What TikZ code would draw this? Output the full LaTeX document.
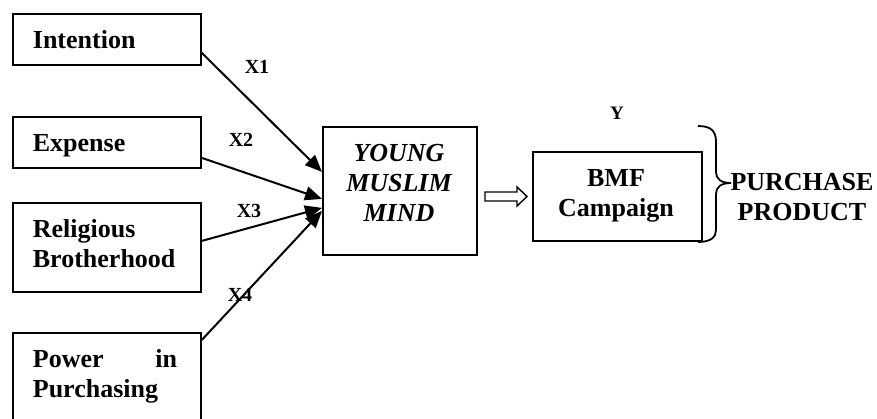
\documentclass[tikz,border=0pt]{standalone}
\usepackage{fontspec}
\setmainfont{Liberation Serif}
\usetikzlibrary{arrows.meta}
\begin{document}
\begin{tikzpicture}[x=1pt,y=-1pt, line width=1.8pt,
  box/.style={draw, rectangle, inner sep=0pt, anchor=north west, line width=1.8pt},
  lbl/.style={font=\fontsize{26}{30}\selectfont\bfseries, inner sep=0pt},
  ilbl/.style={font=\fontsize{26}{30}\selectfont\bfseries\itshape, inner sep=0pt},
  xl/.style={font=\fontsize{20}{24}\selectfont\bfseries, inner sep=0pt},
  arr/.style={-{Triangle[length=17pt,width=14pt]}, line width=2pt}]
\useasboundingbox (0,0) rectangle (877,419);
\clip (0,0) rectangle (877,419);
% boxes
\node[box, minimum width=188pt, minimum height=51pt] (b1) at (12,13) {};
\node[box, minimum width=188pt, minimum height=51pt] (b2) at (12,116) {};
\node[box, minimum width=188pt, minimum height=89pt] (b3) at (12,202) {};
\node[box, minimum width=188pt, minimum height=110pt] (b4) at (12,332) {};
\node[box, minimum width=154pt, minimum height=128pt] (ym) at (322,126) {};
\node[box, minimum width=169pt, minimum height=89pt] (bmf) at (532,151) {};
% texts
\node[lbl, anchor=base west] (t1) at (32,49) {Intention};
\node[lbl, anchor=base west] (t2) at (32,152) {Expense};
\node[lbl, anchor=base west] (t3a) at (32,238) {Religious};
\node[lbl, anchor=base west] (t3b) at (32,268) {Brotherhood};
\node[lbl, anchor=base west] (t4a) at (32,367) {Power};
\node[lbl, anchor=base east] (t4b) at (178,367) {in};
\node[lbl, anchor=base west] (t4c) at (32,397) {Purchasing};
\node[ilbl, anchor=base] (y1) at (399,162) {YOUNG};
\node[ilbl, anchor=base] (y2) at (399,192) {MUSLIM};
\node[ilbl, anchor=base] (y3) at (399,222) {MIND};
\node[lbl, anchor=base] (m1) at (616,187) {BMF};
\node[lbl, anchor=base] (m2) at (616,217) {Campaign};
\node[lbl, anchor=base] (p1) at (802,191) {PURCHASE};
\node[lbl, anchor=base] (p2) at (802,221) {PRODUCT};
% labels
\node[xl] (x1) at (257,67) {X1};
\node[xl] (x2) at (241,140) {X2};
\node[xl] (x3) at (249,211) {X3};
\node[xl] (x4) at (240,295) {X4};
\node[xl, font=\fontsize{19}{22}\selectfont\bfseries] (yl) at (617,113) {Y};
% arrows
\draw[arr] ([yshift=-13.5pt]b1.east) -- ([yshift=19pt]ym.west);
\draw[arr] ([yshift=-15.5pt]b2.east) -- ([yshift=-8pt]ym.west);
\draw[arr] ([yshift=6.5pt]b3.east) -- ([yshift=-17pt]ym.west);
\draw[arr] ([yshift=-8pt]b4.north east) -- ([yshift=-20pt]ym.west);
% hollow arrow
\coordinate (ha) at (485,196.5);
\draw[line width=1.4pt, line join=miter] (ha) ++(0,-4.5) -- ++(32,0) -- ++(0,-5) -- ++(10,9.5)
  -- ++(-10,9.5) -- ++(0,-5) -- ++(-32,0) -- cycle;
% brace
\draw[line width=1.8pt] (698,126) .. controls (711,126) and (716,131) .. (716,142)
  -- (716,172) .. controls (716,179) and (721,183) .. (731,183)
  .. controls (721,183) and (716,187) .. (716,194)
  -- (716,230) .. controls (716,237) and (711,242) .. (698,242);
\end{tikzpicture}
\end{document}
